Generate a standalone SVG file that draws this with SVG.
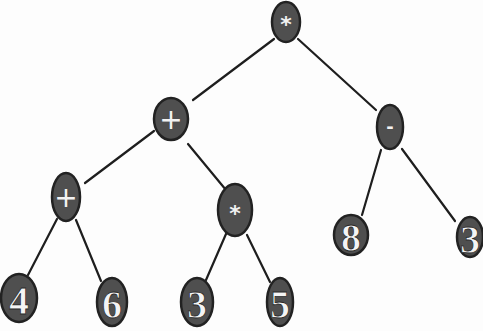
<svg xmlns="http://www.w3.org/2000/svg" width="483" height="331" viewBox="0 0 483 331">
  <style>
    .edge { stroke: #1e1e1e; stroke-width: 2.2; stroke-linecap: round; fill: none; }
    .node ellipse { fill: #4f4f4f; stroke: #222; stroke-width: 2.5; }
    .op { fill: #f2f2f2; font-family: "DejaVu Sans", sans-serif; text-anchor: middle; dominant-baseline: central; }
    .num { fill: #f4f4f4; stroke: #2a2a2a; stroke-width: 0.8; font-family: "Liberation Serif", serif; font-weight: bold; font-size: 40px; text-anchor: middle; dominant-baseline: central; }
  </style>
  <rect width="483" height="331" fill="#fdfdfd"/>
  <g id="connectors">
    <line class="edge" x1="274" y1="39" x2="193" y2="100"/>
    <line class="edge" x1="298" y1="39" x2="376" y2="110"/>
    <line class="edge" x1="154" y1="131" x2="85" y2="183"/>
    <line class="edge" x1="188" y1="144" x2="226" y2="190"/>
    <line class="edge" x1="57" y1="219" x2="28" y2="275"/>
    <line class="edge" x1="76" y1="220" x2="101" y2="281"/>
    <line class="edge" x1="226" y1="234" x2="206" y2="280"/>
    <line class="edge" x1="247" y1="235" x2="270" y2="282"/>
    <line class="edge" x1="381" y1="150" x2="362" y2="215"/>
    <line class="edge" x1="402" y1="149" x2="455" y2="221"/>
  </g>
  <g id="n-root" class="node">
    <ellipse cx="286" cy="22" rx="14" ry="20"/>
    <text class="op" x="286" y="24" font-size="22" font-weight="bold">*</text>
  </g>
  <g id="n-plus1" class="node">
    <ellipse cx="171" cy="119" rx="17" ry="21"/>
    <text class="op" x="171" y="119" font-size="28">+</text>
  </g>
  <g id="n-minus" class="node">
    <ellipse cx="390" cy="127" rx="13" ry="22"/>
    <text class="op" x="390" y="126" font-size="18" font-weight="bold">-</text>
  </g>
  <g id="n-plus2" class="node">
    <ellipse cx="66" cy="197" rx="14" ry="24"/>
    <text class="op" x="66" y="197" font-size="28">+</text>
  </g>
  <g id="n-times" class="node">
    <ellipse cx="235" cy="210" rx="17" ry="26"/>
    <text class="op" x="235" y="213" font-size="22" font-weight="bold">*</text>
  </g>
  <g id="n-8" class="node">
    <ellipse cx="351" cy="235" rx="17" ry="20"/>
    <text class="num" x="351" y="237">8</text>
  </g>
  <g id="n-3a" class="node">
    <ellipse cx="470" cy="237" rx="13" ry="20"/>
    <text class="num" x="470" y="239">3</text>
  </g>
  <g id="n-4" class="node">
    <ellipse cx="19" cy="298" rx="18" ry="24"/>
    <text class="num" x="19" y="300">4</text>
  </g>
  <g id="n-6" class="node">
    <ellipse cx="112" cy="302" rx="15" ry="24"/>
    <text class="num" x="112" y="304">6</text>
  </g>
  <g id="n-3b" class="node">
    <ellipse cx="197" cy="302" rx="16" ry="24"/>
    <text class="num" x="197" y="304">3</text>
  </g>
  <g id="n-5" class="node">
    <ellipse cx="280" cy="302" rx="13" ry="24"/>
    <text class="num" x="280" y="304">5</text>
  </g>
</svg>
